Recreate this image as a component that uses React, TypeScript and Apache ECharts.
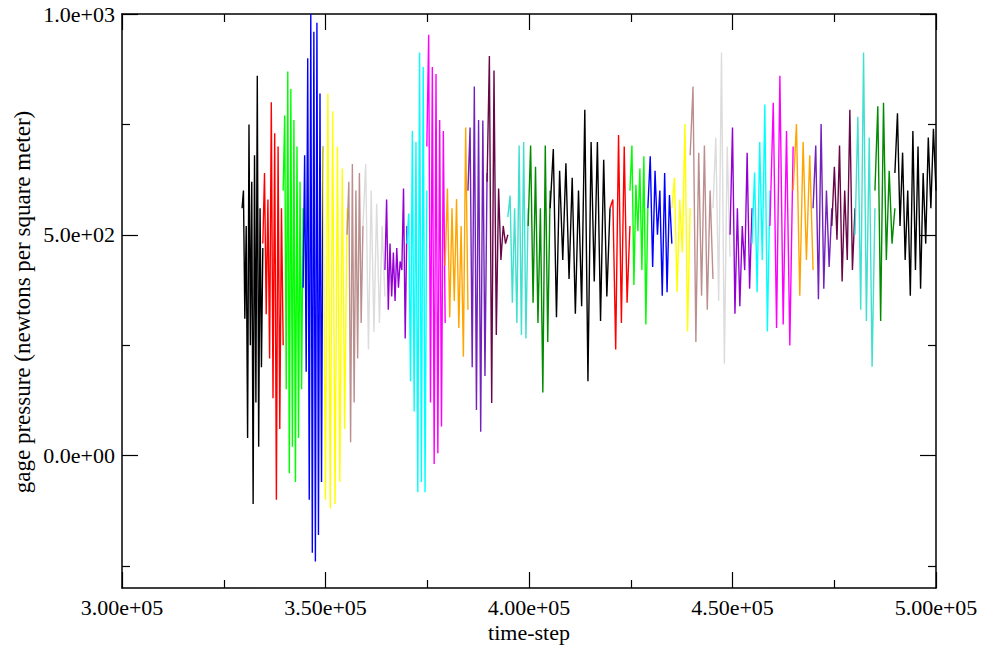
import React, { useEffect, useRef } from "react";
import * as echarts from "echarts";

// Set boundaries along the time-step axis (each colored set spans [b[i], b[i+1]])
const boundaries = [
  329500, 334600, 339600, 344500, 349400, 355300, 359200, 364600, 370000,
  374900, 379400, 385000, 389700, 394800, 399800, 405200, 419900, 424800,
  429200, 435100, 439600, 445200, 449400, 454800, 459200, 464900, 469800,
  474400, 480100, 485000, 489900, 500000,
];

// Grace default colour cycle (black, red, green, blue, yellow, brown, grey, violet,
// cyan, magenta, orange, indigo, maroon, turquoise, green4)
const palette = [
  "#000000", "#ff0000", "#00ff00", "#0000ff", "#ffff00", "#bc8f8f", "#dcdcdc",
  "#9400d3", "#00ffff", "#ff00ff", "#ffa500", "#7221bc", "#670748", "#40e0d0",
  "#008b00",
];

// gage pressure values per set
const s01 = [560, 600, 310, 520, 40, 750, 250, 620, -110, 680, 120, 860, 20, 560, 200, 470];
const s02 = [480, 640, 320, 580, 220, 800, 130, 730, -100, 700, 60, 560, 250];
const s03 = [600, 770, 150, 870, -40, 830, 20, 760, -60, 700, 40, 620, 150, 560];
const s04 = [380, 680, 190, 900, -100, 1000, -220, 960, -240, 980, -180, 820, -60, 700];
const s05 = [700, -100, 820, -120, 780, -110, 700, -60, 650, 60, 560];
const s06 = [500, 620, 30, 660, 120, 600, 220, 640, 300, 520];
const s07 = [520, 660, 240, 600, 280, 570, 300, 520, 360];
const s08 = [420, 580, 330, 480, 360, 460, 350, 470, 380, 440, 420, 605, 265, 520];
const s09 = [480, 548, 168, 735, 100, 710, -83, 913, -60, 880, -83, 600];
const s10 = [700, 953, 120, 880, -19, 864, 5, 760, 66, 735, 300];
const s11 = [430, 605, 313, 560, 350, 581, 289, 520, 224, 743, 330];
const s12 = [600, 743, 200, 836, 103, 760, 54, 759, 180, 640];
const s13 = [620, 905, 119, 872, 273, 605, 443, 520, 480, 500];
const s14 = [540, 589, 346, 560, 300, 702, 273, 710, 265, 560];
const s15 = [520, 702, 346, 654, 300, 560, 143, 702, 257, 600];
const s16 = [560, 694, 313, 645, 443, 662, 400, 629, 321, 600, 338, 783, 168, 710, 394, 710, 305, 670, 360, 560];
const s17 = [560, 580, 240, 726, 300, 700, 346, 520];
const s18 = [600, 702, 386, 613, 508, 650, 420, 678, 297, 560];
const s19 = [560, 678, 427, 645, 500, 600, 362, 640, 370, 590, 480];
const s20 = [560, 629, 370, 580, 460, 751, 281, 560];
const s21 = [680, 836, 257, 686, 362, 702, 330, 600, 400];
const s22 = [560, 720, 350, 913, 208, 700, 450];
const s23 = [500, 743, 321, 560, 338, 520, 420, 686, 378, 560];
const s24 = [480, 641, 370, 710, 443, 795, 281, 600];
const s25 = [520, 799, 289, 860, 297, 735, 249, 700];
const s26 = [600, 751, 362, 710, 443, 680, 420];
const s27 = [560, 702, 354, 751, 378, 600, 427, 560];
const s28 = [520, 654, 489, 702, 394, 600, 443, 783, 420, 560];
const s29 = [500, 767, 330, 913, 305, 720, 201, 560];
const s30 = [600, 791, 305, 799, 443, 645, 480, 560];
const s31 = [640, 775, 520, 686, 443, 600, 362, 735, 420, 700, 378, 640, 480, 720, 560, 740, 600];

const sets = [
  s01, s02, s03, s04, s05, s06, s07, s08, s09, s10, s11, s12, s13, s14, s15, s16,
  s17, s18, s19, s20, s21, s22, s23, s24, s25, s26, s27, s28, s29, s30, s31,
];

const xTickLabels = [300000, 350000, 400000, 450000, 500000];
const yMajor = [0, 500, 1000];
const yMinor = [-250, 250, 750];

const FONT = "Liberation Serif, Times New Roman, serif";

function sci(v: number, digits: number): string {
  return v.toExponential(digits).replace(/e([+-])(\d)$/, "e$10$2");
}

export default function App() {
  const ref = useRef<HTMLDivElement>(null);
  useEffect(() => {
    if (!ref.current) return;
    const chart = echarts.init(ref.current, undefined, { renderer: "svg" });
    const axisLine = { show: true, onZero: false, lineStyle: { color: "#000", width: 1.5 } };
    const tickStyle = { color: "#000", width: 1.2 };
    const xBase = {
      type: "value" as const,
      min: 300000,
      max: 500000,
      interval: 50000,
      axisLine,
      axisTick: { show: true, inside: true, length: 16, lineStyle: tickStyle },
      minorTick: { show: true, splitNumber: 2, length: 8, lineStyle: tickStyle },
      splitLine: { show: false },
    };
    const yBase = {
      type: "value" as const,
      min: -300,
      max: 1000,
      splitLine: { show: false },
    };
    const series = sets.map((vals, i) => {
      const b0 = boundaries[i];
      const b1 = boundaries[i + 1];
      const n = vals.length;
      return {
        type: "line" as const,
        showSymbol: false,
        silent: true,
        xAxisIndex: 0,
        yAxisIndex: 0,
        lineStyle: { color: palette[i % palette.length], width: 1.4 },
        data: vals.map((v, j) => [b0 + (j * (b1 - b0)) / (n - 1), v]),
      };
    });
    chart.setOption({
      animation: false,
      backgroundColor: "#fff",
      grid: { left: 122, right: 47, top: 14, bottom: 60, containLabel: false },
      xAxis: [
        {
          ...xBase,
          position: "bottom",
          axisLabel: {
            show: true,
            margin: 8,
            color: "#000",
            fontFamily: FONT,
            fontSize: 22,
            formatter: (v: number) => (xTickLabels.includes(v) ? sci(v, 2) : ""),
          },
        },
        { ...xBase, position: "top", axisLabel: { show: false } },
      ],
      yAxis: [
        {
          ...yBase,
          position: "left",
          axisLine,
          axisTick: { show: true, inside: true, length: 16, customValues: yMajor, lineStyle: tickStyle },
          axisLabel: {
            show: true,
            customValues: yMajor,
            margin: 7,
            color: "#000",
            fontFamily: FONT,
            fontSize: 22,
            formatter: (v: number) => sci(v, 1),
          },
        },
        {
          ...yBase,
          position: "left",
          axisLine: { show: false },
          axisTick: { show: true, inside: true, length: 8, customValues: yMinor, lineStyle: tickStyle },
          axisLabel: { show: false },
        },
        {
          ...yBase,
          position: "right",
          axisLine,
          axisTick: { show: true, inside: true, length: 16, customValues: yMajor, lineStyle: tickStyle },
          axisLabel: { show: false },
        },
        {
          ...yBase,
          position: "right",
          axisLine: { show: false },
          axisTick: { show: true, inside: true, length: 8, customValues: yMinor, lineStyle: tickStyle },
          axisLabel: { show: false },
        },
      ],
      graphic: [
        {
          type: "text",
          x: 529,
          y: 632,
          style: {
            text: "time-step",
            fontFamily: FONT,
            fontSize: 22,
            fill: "#000",
            align: "center",
            verticalAlign: "middle",
          },
        },
        {
          type: "text",
          x: 22,
          y: 302,
          rotation: Math.PI / 2,
          style: {
            text: "gage pressure (newtons per square meter)",
            fontFamily: FONT,
            fontSize: 23,
            fill: "#000",
            align: "center",
            verticalAlign: "middle",
          },
        },
      ],
      series,
    });
    return () => chart.dispose();
  }, []);
  return (
    <div
      ref={ref}
      style={{ position: "absolute", left: 0, top: 0, width: 983, height: 648 }}
    />
  );
}
